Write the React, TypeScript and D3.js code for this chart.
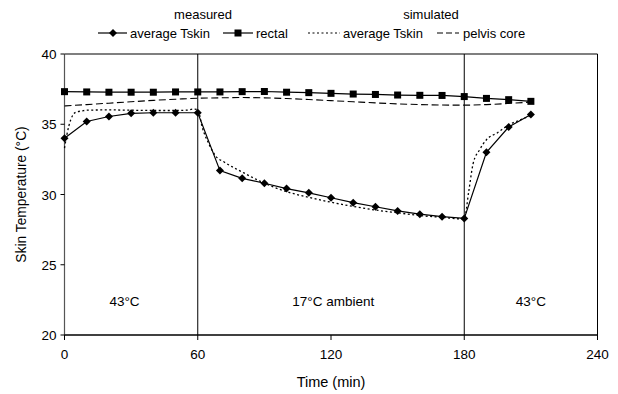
import React from "react";
import * as d3 from "d3";

const measTime = [0,10,20,30,40,50,60,70,80,90,100,110,120,130,140,150,160,170,180,190,200,210];
const measTskin = [34.0,35.2,35.55,35.78,35.82,35.82,35.82,31.7,31.15,30.8,30.42,30.12,29.77,29.42,29.13,28.83,28.6,28.42,28.3,33.0,34.8,35.7];
const measRectal = [37.32,37.3,37.28,37.28,37.28,37.3,37.3,37.3,37.32,37.33,37.28,37.25,37.2,37.15,37.12,37.08,37.06,37.05,36.97,36.84,36.75,36.63];

const simTime = [0,1,2,3,5,8,10,20,30,40,50,55,58,60,62,65,68,72,80,88,100,110,120,130,142,150,160,170,180,182,184,187,190,195,200,205,210];
const simTskin = [33.3,34.2,34.9,35.4,35.85,35.95,36.0,36.02,36.0,35.98,35.98,36.0,36.08,36.05,34.8,33.6,32.75,32.3,31.6,30.95,30.2,29.8,29.45,29.15,28.85,28.7,28.5,28.38,28.25,30.2,32.2,33.2,33.9,34.4,34.95,35.3,35.6];

const pelvisTime = [0,10,20,30,40,50,60,70,80,90,100,110,120,130,140,150,160,170,180,190,200,210];
const pelvisCore = [36.3,36.4,36.5,36.6,36.7,36.78,36.85,36.88,36.9,36.88,36.83,36.76,36.68,36.6,36.52,36.45,36.4,36.37,36.36,36.4,36.48,36.58];

const xTicks = [0,60,120,180,240];
const yTicks = [20,25,30,35,40];
const phaseLines = [60,180];
const phaseLabels = [{ t: 27, text: "43°C" }, { t: 121, text: "17°C ambient" }, { t: 210, text: "43°C" }];

export default function App() {
  const W = 618, H = 394;
  const left = 64.5, right = 597.5, top = 54, bottom = 335;
  const x = d3.scaleLinear().domain([0, 240]).range([left, right]);
  const y = d3.scaleLinear().domain([20, 40]).range([bottom, top]);
  const font = "Liberation Sans, Arial, sans-serif";

  const lineM = d3.line<number>().x((_, i) => x(measTime[i])).y(d => y(d));
  const lineS = d3.line<number>().x((_, i) => x(simTime[i])).y(d => y(d)).curve(d3.curveMonotoneX);
  const lineP = d3.line<number>().x((_, i) => x(pelvisTime[i])).y(d => y(d)).curve(d3.curveMonotoneX);

  const diamond = (cx: number, cy: number, k: string | number) => (
    <path key={k} d={`M${cx},${cy - 4}L${cx + 4},${cy}L${cx},${cy + 4}L${cx - 4},${cy}Z`} fill="#000" />
  );
  const square = (cx: number, cy: number, k: string | number) => (
    <rect key={k} x={cx - 3.5} y={cy - 3.5} width={7} height={7} fill="#000" />
  );

  return (
    <svg width={W} height={H} style={{ position: "absolute", left: 0, top: 0, background: "#fff" }} fontFamily={font}>
      {/* legend */}
      <text x={203} y={19} fontSize={13} textAnchor="middle">measured</text>
      <text x={431} y={19} fontSize={13} textAnchor="middle">simulated</text>
      <g fontSize={13}>
        <line x1={98} x2={127} y1={33} y2={33} stroke="#000" strokeWidth={1.2} />
        {diamond(113, 33, "ld")}
        <text x={130} y={38}>average Tskin</text>
        <line x1={223} x2={253} y1={33} y2={33} stroke="#000" strokeWidth={1.2} />
        {square(238, 33, "ls")}
        <text x={256} y={38}>rectal</text>
        <line x1={308} x2={340} y1={33} y2={33} stroke="#000" strokeWidth={1.2} strokeDasharray="2,2.5" />
        <text x={343} y={38}>average Tskin</text>
        <line x1={437} x2={459} y1={33} y2={33} stroke="#000" strokeWidth={1.2} strokeDasharray="6,3" />
        <text x={463} y={38}>pelvis core</text>
      </g>

      {/* frame */}
      <line x1={left} x2={right} y1={top} y2={top} stroke="#000" strokeWidth={1.2} />
      <line x1={right} x2={right} y1={top} y2={bottom} stroke="#000" strokeWidth={1} />
      <line x1={left} x2={left} y1={top} y2={bottom} stroke="#555" strokeWidth={1.2} />
      <line x1={left} x2={right} y1={bottom} y2={bottom} stroke="#000" strokeWidth={1.5} />
      {phaseLines.map(t => (
        <line key={t} x1={x(t)} x2={x(t)} y1={top} y2={bottom} stroke="#000" strokeWidth={1} />
      ))}

      {/* axes ticks */}
      {yTicks.map(v => (
        <g key={v}>
          <line x1={left - 4} x2={left} y1={y(v)} y2={y(v)} stroke="#000" />
          <text x={left - 8} y={y(v) + 5} fontSize={13.5} textAnchor="end">{v}</text>
        </g>
      ))}
      {xTicks.map(v => (
        <g key={v}>
          <line x1={x(v)} x2={x(v)} y1={bottom} y2={bottom + 5} stroke="#000" />
          <text x={x(v)} y={bottom + 24} fontSize={13.5} textAnchor="middle">{v}</text>
        </g>
      ))}
      <text x={331} y={387} fontSize={14.5} textAnchor="middle">Time (min)</text>
      <text transform={`translate(26,${(top + bottom) / 2}) rotate(-90)`} fontSize={13.8} textAnchor="middle">Skin Temperature (°C)</text>

      {phaseLabels.map((p, i) => (
        <text key={i} x={x(p.t)} y={306} fontSize={13.5} textAnchor="middle">{p.text}</text>
      ))}

      {/* series */}
      <path d={lineP(pelvisCore) || ""} fill="none" stroke="#000" strokeWidth={1.1} strokeDasharray="7,3.5" />
      <path d={lineS(simTskin) || ""} fill="none" stroke="#000" strokeWidth={1.3} strokeDasharray="2,2.5" />
      <path d={lineM(measRectal) || ""} fill="none" stroke="#000" strokeWidth={1.2} />
      {measRectal.map((v, i) => square(x(measTime[i]), y(v), "r" + i))}
      <path d={lineM(measTskin) || ""} fill="none" stroke="#000" strokeWidth={1.2} />
      {measTskin.map((v, i) => diamond(x(measTime[i]), y(v), "m" + i))}
    </svg>
  );
}
